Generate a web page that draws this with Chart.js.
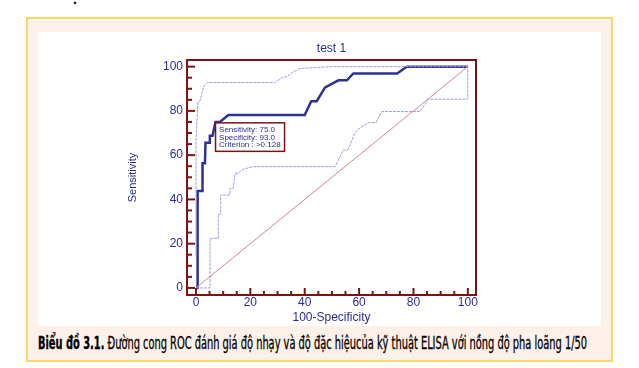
<!DOCTYPE html>
<html>
<head>
<meta charset="utf-8">
<script src="https://cdn.jsdelivr.net/npm/chart.js@4"></script>
<style>
  html, body { margin:0; padding:0; width:639px; height:368px; background:#ffffff; overflow:hidden; }
  #dot { position:absolute; left:73px; top:-8px; font:bold 14px/14px "Liberation Sans", Arial, sans-serif; color:#000; }
  #frame { position:absolute; left:26px; top:17px; width:587px; height:345px; box-sizing:border-box;
           border:2px solid #fbd764; background:#fdf1e9; }
  #inner { position:absolute; left:38px; top:32px; width:563px; height:294px; background:#ffffff; }
  #chart { position:absolute; left:0; top:0; }
  #caption { position:absolute; left:38px; top:334.6px; white-space:nowrap; font-size:17px; line-height:17px;
             font-family:"Liberation Sans Narrow","DejaVu Sans Condensed","Liberation Sans",sans-serif; color:#000;
             transform-origin:0 0; -webkit-text-stroke:0.3px #000; }
  #caption b { font-weight:bold; }
</style>
</head>
<body>
<div id="dot">.</div>
<div id="frame"></div>
<div id="inner"><canvas id="chart" width="563" height="294"></canvas></div>
<div id="caption"><b>Biểu đồ 3.1.</b> Đường cong ROC đánh giá độ nhạy và độ đặc hiệucủa kỹ thuật ELISA với nồng độ pha loãng 1/50</div>
<script>
// ---- data ----
const chartTitle = 'test 1';
const xAxisTitle = '100-Specificity';
const yAxisTitle = 'Sensitivity';

const xTickLabels = [0, 20, 40, 60, 80, 100];
const yTickLabels = [0, 20, 40, 60, 80, 100];
const minorTicks = [0,5,10,15,20,25,30,35,40,45,50,55,60,65,70,75,80,85,90,95,100];

// ROC curve (100-specificity, sensitivity)
const rocX = [0, 0.6, 0.6, 2.4, 2.4, 3.3, 3.5, 4.9, 5.1, 6.1, 7.2, 8.8, 11.9, 40.0, 42.4, 44.4, 47.5, 52.4, 55.5, 57.9, 74.0, 77.5, 100];
const rocY = [0, 0, 43.8, 43.8, 56.3, 56.3, 65.6, 65.6, 68.8, 68.8, 75.0, 75.0, 78.1, 78.1, 84.4, 84.4, 90.6, 93.8, 93.8, 96.9, 96.9, 100, 100];

// upper confidence bound
const upperX = [0, 0, 0.7, 1.5, 2.8, 4.2, 29.0, 32.0, 33.5, 35.8, 38.3, 45.6, 50.0, 100];
const upperY = [14, 66, 84.0, 84.5, 91.0, 92.8, 92.8, 95.2, 95.5, 97.7, 99.2, 99.7, 100, 100];

// lower confidence bound
const lowerX = [0, 5.2, 5.2, 8.2, 8.2, 9.1, 9.1, 12.5, 12.5, 13.7, 14.4, 15.6, 17.0, 21.1, 51.2, 54.2, 55.9, 58.5, 60.0, 63.4, 66.2, 68.3, 82.4, 85.5, 100, 100];
const lowerY = [0, 0, 22.4, 22.4, 33.3, 33.3, 42.0, 42.0, 45.0, 45.0, 51.8, 51.8, 53.5, 54.8, 54.8, 62.4, 62.4, 70.2, 72.0, 74.7, 74.7, 79.7, 79.7, 85.3, 85.3, 100];

// reference diagonal
const diagX = [0, 100];
const diagY = [0, 100];

// criterion box
const criterionPoint = [7.2, 74.6];
const criterionLines = ['Sensitivity: 75.0', 'Specificity: 93.0', 'Criterion : >0.128'];

// ---- build chart ----
const pts = (xs, ys) => xs.map((x, i) => ({x: x, y: ys[i]}));
const FONT = '"Liberation Sans", Arial, sans-serif';
const BLUE = '#2b2b92';
const AXIS = '#7a1414';

const framePlugin = {
  id: 'framePlugin',
  afterDatasetsDraw(chart) {
    const {ctx, chartArea: a, scales: {x, y}} = chart;
    ctx.save();
    ctx.strokeStyle = AXIS;
    ctx.lineWidth = 2;
    minorTicks.forEach(v => {
      const major = v % 20 === 0;
      const px = x.getPixelForValue(v);
      ctx.beginPath();
      ctx.moveTo(px, a.bottom);
      ctx.lineTo(px, a.bottom - (major ? 7 : 4));
      ctx.stroke();
      const py = y.getPixelForValue(v);
      ctx.beginPath();
      ctx.moveTo(a.left, py);
      ctx.lineTo(a.left + (major ? 8 : 5), py);
      ctx.stroke();
    });
    ctx.strokeRect(a.left, a.top, a.right - a.left, a.bottom - a.top);
    ctx.restore();
  },
  afterDraw(chart) {
    const {ctx, scales: {x, y}} = chart;
    const bx = x.getPixelForValue(criterionPoint[0]);
    const by = y.getPixelForValue(criterionPoint[1]);
    const w = 69, h = 28.5;
    ctx.save();
    ctx.fillStyle = '#ffffff';
    ctx.fillRect(bx, by, w, h);
    ctx.strokeStyle = AXIS;
    ctx.lineWidth = 1.5;
    ctx.strokeRect(bx, by, w, h);
    ctx.fillStyle = BLUE;
    ctx.font = '8px ' + FONT;
    ctx.textBaseline = 'middle';
    criterionLines.forEach((t, i) => ctx.fillText(t, bx + 3.5, by + 6.7 + i * 7.8));
    ctx.restore();
  }
};

new Chart(document.getElementById('chart'), {
  type: 'scatter',
  data: {
    datasets: [
      {data: pts(diagX, diagY), showLine: true, borderColor: '#c98888', borderWidth: 1, pointRadius: 0},
      {data: pts(lowerX, lowerY), showLine: true, borderColor: '#9c9cd8', borderWidth: 1, borderDash: [3, 1], pointRadius: 0},
      {data: pts(upperX, upperY), showLine: true, borderColor: '#9c9cd8', borderWidth: 1, borderDash: [3, 1], pointRadius: 0},
      {data: pts(rocX, rocY), showLine: true, borderColor: '#2e3192', borderWidth: 2.5, pointRadius: 0}
    ]
  },
  options: {
    responsive: false,
    animation: false,
    layout: {padding: {left: 0, right: 125, top: 0, bottom: 0}},
    plugins: {
      legend: {display: false},
      tooltip: {enabled: false},
      title: {display: true, text: chartTitle, color: BLUE, fullSize: false,
              font: {family: FONT, size: 12, weight: 'normal'}, padding: {top: 9.8, bottom: 3.8}}
    },
    scales: {
      x: {
        type: 'linear', min: -3.3, max: 103,
        afterBuildTicks: s => { s.ticks = xTickLabels.map(v => ({value: v})); },
        afterFit: s => { s.height = 31; },
        grid: {display: false, drawTicks: false},
        border: {display: false},
        ticks: {color: BLUE, font: {family: FONT, size: 12}, padding: 0, maxRotation: 0},
        title: {display: true, text: xAxisTitle, color: BLUE, font: {family: FONT, size: 12}, padding: {top: 0, bottom: 0.8}}
      },
      y: {
        type: 'linear', min: -3.2, max: 103,
        afterBuildTicks: s => { s.ticks = yTickLabels.map(v => ({value: v})); },
        afterFit: s => { s.width = 149; },
        grid: {display: false, drawTicks: false},
        border: {display: false},
        ticks: {color: BLUE, font: {family: FONT, size: 12}, padding: 4},
        title: {display: true, text: yAxisTitle, color: BLUE, font: {family: FONT, size: 11}, padding: {top: 88.4, bottom: 0}}
      }
    }
  },
  plugins: [framePlugin]
});

const cap = document.getElementById('caption');
const capW = cap.getBoundingClientRect().width;
cap.style.transform = 'scaleX(' + (549 / capW) + ')';
</script>
</body>
</html>
